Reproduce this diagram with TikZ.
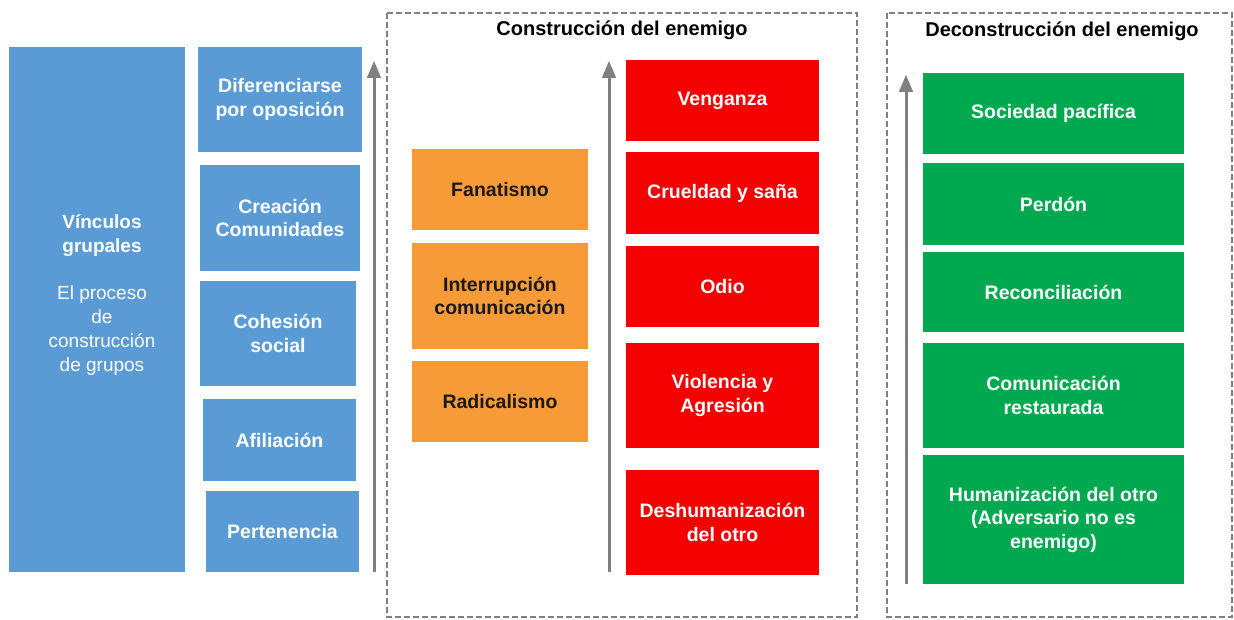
\documentclass[tikz,border=0pt]{standalone}
\usepackage{fontspec}
\setmainfont{Liberation Sans}
\usetikzlibrary{arrows}

\definecolor{azulC}{HTML}{5B9BD5}
\definecolor{naranjaC}{HTML}{F79A38}
\definecolor{rojoC}{HTML}{F40000}
\definecolor{verdeC}{HTML}{00A84F}
\definecolor{grisC}{HTML}{808080}

\begin{document}
\begin{tikzpicture}[
    x=1pt, y=-1pt,
    caja/.style 2 args={
      rectangle,
      minimum width=#1,
      minimum height=#2,
      inner sep=2pt,
      align=center,
      font=\fontsize{19.5}{23.5}\selectfont\bfseries},
    azul/.style={fill=azulC, text=white},
    naranja/.style={fill=naranjaC, text=black!90},
    rojo/.style={fill=rojoC, text=white},
    verde/.style={fill=verdeC, text=white},
    marco/.style={draw=grisC, line width=2pt, dash pattern=on 6pt off 3pt},
    titulo/.style={font=\fontsize{20}{24}\selectfont\bfseries, text=black},
    flecha/.style={-triangle 45, draw=grisC, line width=3pt}
    ]

  \useasboundingbox (0,0) rectangle (1234,619);

  % marcos
  \draw [marco] (387,13) rectangle (857,617);
  \draw [marco] (887,13) rectangle (1232,617);
  \node at (622,30) (tit1) [titulo] {Construcción del enemigo};
  \node at (1062,31) (tit2) [titulo] {Deconstrucción del enemigo};

  % vinculos grupales
  \node at (97,309.5) (vinculos) [caja={176pt}{525pt}, azul] {};
  \node at (102,236) (vinc) [text=white, align=center,
    font=\fontsize{19}{24}\selectfont\bfseries] {Vínculos\\grupales};
  \node at (102,331) (proceso) [text=white, align=center,
    font=\fontsize{19}{24}\selectfont] {El proceso\\de\\construcción\\de grupos};

  \node at (280,99.5) (dif) [caja={164pt}{105pt}, azul] {Diferenciarse\\por oposición};
  \node at (280,218) (crea) [caja={160pt}{106pt}, azul] {Creación\\Comunidades};
  \node at (278,333.5) (cohe) [caja={156pt}{105pt}, azul] {Cohesión\\social};
  \node at (279.5,440) (afil) [caja={153pt}{82pt}, azul] {Afiliación};
  \node at (282.5,531.5) (pert) [caja={153pt}{81pt}, azul] {Pertenencia};

  % construccion
  \node at (500,189.5) (fan) [caja={176pt}{81pt}, naranja] {Fanatismo};
  \node at (500,296) (inter) [caja={176pt}{106pt}, naranja] {Interrupción\\comunicación};
  \node at (500,401.5) (radi) [caja={176pt}{81pt}, naranja] {Radicalismo};

  \node at (722.5,100.5) (ven) [caja={193pt}{81pt}, rojo] {Venganza};
  \node at (722.5,193) (crue) [caja={193pt}{82pt}, rojo] {Crueldad y saña};
  \node at (722.5,286.5) (odio) [caja={193pt}{81pt}, rojo] {Odio};
  \node at (722.5,395.5) (viol) [caja={193pt}{105pt}, rojo] {Violencia y\\Agresión};
  \node at (722.5,522.5) (desh) [caja={193pt}{105pt}, rojo] {Deshumanización\\del otro};

  % deconstruccion
  \node at (1053.5,113.5) (soc) [caja={261pt}{81pt}, verde] {Sociedad pacífica};
  \node at (1053.5,204) (perd) [caja={261pt}{82pt}, verde] {Perdón};
  \node at (1053.5,292) (reco) [caja={261pt}{80pt}, verde] {Reconciliación};
  \node at (1053.5,395.5) (comu) [caja={261pt}{105pt}, verde] {Comunicación\\restaurada};
  \node at (1053.5,519.5) (huma) [caja={261pt}{129pt}, verde] {Humanización del otro\\(Adversario no es\\enemigo)};

  % flechas
  \coordinate (f1a) at (374,572);
  \coordinate (f1b) at (374,61);
  \coordinate (f2a) at (609,572);
  \coordinate (f2b) at (609,61);
  \coordinate (f3a) at (906,584);
  \coordinate (f3b) at (906,75);

  \path (f1a) edge [flecha] (f1b);
  \path (f2a) edge [flecha] (f2b);
  \path (f3a) edge [flecha] (f3b);

\end{tikzpicture}
\end{document}
